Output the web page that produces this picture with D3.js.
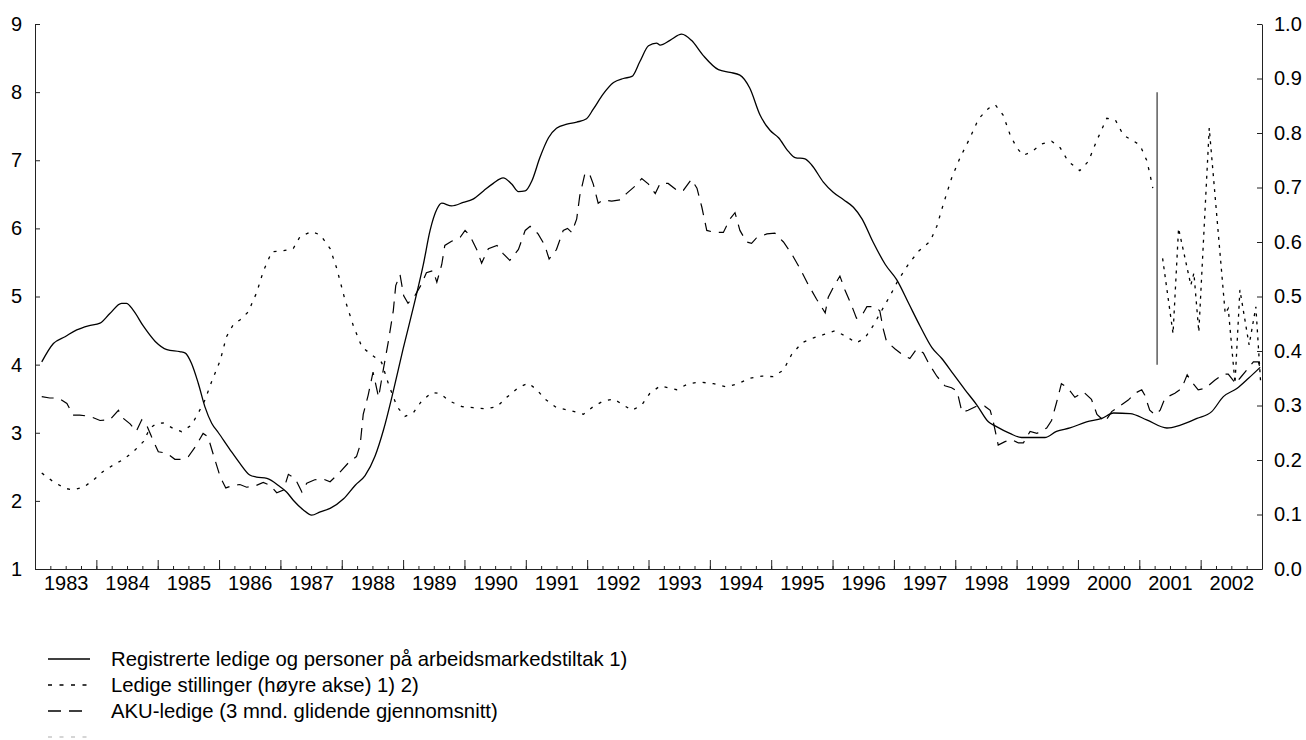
<!DOCTYPE html>
<html><head><meta charset="utf-8">
<script src="https://cdn.jsdelivr.net/npm/d3@7"></script>
<style>
body{margin:0;background:#fff;}
svg text{font-family:"Liberation Sans",Arial,sans-serif;fill:#000;}
</style></head>
<body><svg id="c" width="1306" height="740"></svg>
<script>
// ---- data ----
const yearLabels = ["1983","1984","1985","1986","1987","1988","1989","1990","1991","1992","1993","1994","1995","1996","1997","1998","1999","2000","2001","2002"];
const leftTicks = [1,2,3,4,5,6,7,8,9];
const rightTicks = [0,0.1,0.2,0.3,0.4,0.5,0.6,0.7,0.8,0.9,1.0];
const seriesNames = ["Registrerte ledige og personer på arbeidsmarkedstiltak 1)","Ledige stillinger (høyre akse) 1) 2)","AKU-ledige (3 mnd. glidende gjennomsnitt)"];

// Registrerte ledige (left axis)
const regT = [1983.11,1983.30,1983.49,1983.68,1983.87,1984.06,1984.22,1984.41,1984.49,1984.60,1984.77,1984.96,1985.15,1985.36,1985.45,1985.55,1985.66,1985.77,1985.88,1985.99,1986.18,1986.34,1986.50,1986.61,1986.78,1986.99,1987.10,1987.21,1987.37,1987.51,1987.65,1987.81,1988.03,1988.22,1988.38,1988.54,1988.68,1988.84,1989.00,1989.17,1989.33,1989.44,1989.55,1989.63,1989.79,1989.98,1990.14,1990.31,1990.47,1990.63,1990.77,1990.88,1990.99,1991.10,1991.23,1991.37,1991.50,1991.67,1991.83,1991.99,1992.10,1992.26,1992.43,1992.59,1992.73,1992.86,1993.00,1993.13,1993.19,1993.35,1993.54,1993.70,1993.89,1994.14,1994.33,1994.49,1994.65,1994.82,1994.98,1995.12,1995.28,1995.39,1995.55,1995.66,1995.85,1996.01,1996.18,1996.34,1996.48,1996.66,1996.86,1997.05,1997.24,1997.43,1997.62,1997.78,1997.97,1998.16,1998.35,1998.54,1998.65,1998.89,1999.08,1999.46,1999.65,1999.87,2000.14,2000.39,2000.58,2000.85,2001.12,2001.45,2001.66,2001.94,2002.18,2002.37,2002.59,2002.78,2002.97];
const regV = [4.04,4.31,4.41,4.51,4.57,4.61,4.75,4.90,4.90,4.80,4.56,4.34,4.22,4.19,4.17,4.02,3.73,3.38,3.14,3.00,2.75,2.55,2.38,2.35,2.33,2.21,2.13,2.01,1.87,1.79,1.84,1.89,2.03,2.23,2.37,2.65,3.04,3.61,4.23,4.85,5.47,5.97,6.28,6.37,6.33,6.38,6.43,6.55,6.66,6.74,6.65,6.54,6.55,6.70,7.04,7.33,7.47,7.53,7.56,7.61,7.75,7.97,8.14,8.20,8.23,8.45,8.68,8.72,8.69,8.76,8.85,8.76,8.54,8.33,8.29,8.25,8.06,7.66,7.44,7.33,7.13,7.04,7.02,6.93,6.68,6.53,6.42,6.31,6.14,5.80,5.47,5.24,4.90,4.56,4.25,4.09,3.86,3.63,3.41,3.16,3.10,2.99,2.93,2.93,3.02,3.07,3.16,3.21,3.29,3.28,3.19,3.07,3.11,3.21,3.31,3.53,3.65,3.80,3.96];

// Ledige stillinger (right axis), before and after the break
const vacT1 = [1983.11,1983.30,1983.49,1983.62,1983.79,1983.95,1984.11,1984.28,1984.44,1984.60,1984.77,1984.87,1984.98,1985.09,1985.25,1985.39,1985.55,1985.66,1985.77,1985.88,1986.02,1986.12,1986.23,1986.34,1986.48,1986.56,1986.61,1986.72,1986.86,1987.05,1987.21,1987.32,1987.51,1987.65,1987.81,1987.92,1988.05,1988.19,1988.33,1988.49,1988.65,1988.76,1988.90,1989.03,1989.17,1989.30,1989.47,1989.60,1989.76,1989.96,1990.14,1990.36,1990.53,1990.69,1990.88,1991.04,1991.18,1991.31,1991.50,1991.72,1991.94,1992.10,1992.26,1992.43,1992.59,1992.73,1992.89,1993.02,1993.19,1993.46,1993.65,1993.84,1994.06,1994.27,1994.46,1994.65,1994.85,1995.03,1995.20,1995.33,1995.50,1995.69,1995.85,1996.04,1996.20,1996.39,1996.53,1996.66,1996.80,1996.94,1997.07,1997.23,1997.40,1997.59,1997.70,1997.81,1997.94,1998.08,1998.24,1998.38,1998.54,1998.65,1998.78,1998.89,1999.00,1999.11,1999.25,1999.41,1999.57,1999.71,1999.84,2000.03,2000.17,2000.31,2000.47,2000.61,2000.74,2000.88,2001.01,2001.12,2001.17,2001.22];
const vacV1 = [0.176,0.160,0.148,0.145,0.150,0.163,0.179,0.191,0.201,0.215,0.234,0.258,0.267,0.268,0.258,0.252,0.264,0.286,0.310,0.344,0.383,0.426,0.448,0.457,0.472,0.494,0.506,0.546,0.582,0.584,0.588,0.610,0.619,0.613,0.588,0.551,0.495,0.446,0.407,0.393,0.379,0.340,0.298,0.280,0.287,0.308,0.324,0.322,0.308,0.298,0.296,0.294,0.298,0.315,0.333,0.341,0.329,0.312,0.296,0.291,0.284,0.298,0.308,0.312,0.301,0.291,0.301,0.322,0.336,0.329,0.340,0.343,0.340,0.334,0.340,0.350,0.354,0.353,0.365,0.393,0.415,0.424,0.430,0.437,0.428,0.415,0.424,0.446,0.474,0.502,0.530,0.558,0.583,0.601,0.629,0.671,0.717,0.755,0.791,0.826,0.845,0.852,0.833,0.798,0.773,0.759,0.766,0.780,0.785,0.773,0.748,0.731,0.748,0.787,0.827,0.824,0.796,0.787,0.778,0.750,0.726,0.699];
const vacT2 = [2001.38,2001.55,2001.64,2001.84,2001.89,2001.97,2002.14,2002.40,2002.45,2002.56,2002.64,2002.79,2002.90,2002.98];
const vacV2 = [0.570,0.432,0.625,0.521,0.543,0.435,0.809,0.469,0.478,0.341,0.512,0.411,0.481,0.338];

// AKU-ledige (left axis)
const akuT = [1983.11,1983.24,1983.38,1983.52,1983.62,1983.73,1983.90,1984.06,1984.22,1984.36,1984.44,1984.55,1984.65,1984.74,1984.82,1984.90,1985.01,1985.15,1985.28,1985.39,1985.50,1985.61,1985.74,1985.82,1985.91,1986.02,1986.11,1986.23,1986.34,1986.45,1986.59,1986.72,1986.83,1986.94,1987.05,1987.13,1987.24,1987.35,1987.43,1987.56,1987.70,1987.81,1987.97,1988.11,1988.24,1988.30,1988.35,1988.43,1988.51,1988.60,1988.68,1988.76,1988.84,1988.88,1988.95,1989.01,1989.08,1989.19,1989.30,1989.38,1989.49,1989.55,1989.63,1989.68,1989.79,1989.93,1990.01,1990.09,1990.20,1990.28,1990.39,1990.53,1990.63,1990.74,1990.88,1990.99,1991.07,1991.20,1991.31,1991.38,1991.50,1991.61,1991.68,1991.75,1991.83,1991.88,1991.96,1992.03,1992.10,1992.18,1992.26,1992.40,1992.54,1992.64,1992.78,1992.89,1993.00,1993.11,1993.19,1993.32,1993.49,1993.57,1993.70,1993.79,1993.87,1993.95,1994.08,1994.22,1994.33,1994.41,1994.49,1994.60,1994.68,1994.76,1994.93,1995.06,1995.20,1995.33,1995.47,1995.60,1995.74,1995.88,1995.93,1996.01,1996.12,1996.20,1996.31,1996.39,1996.47,1996.56,1996.69,1996.77,1996.83,1996.88,1997.02,1997.15,1997.26,1997.37,1997.48,1997.56,1997.70,1997.83,1997.94,1998.03,1998.11,1998.21,1998.35,1998.48,1998.57,1998.62,1998.70,1998.81,1998.92,1999.03,1999.11,1999.22,1999.33,1999.49,1999.57,1999.65,1999.73,1999.83,1999.95,2000.09,2000.22,2000.31,2000.44,2000.55,2000.66,2000.82,2000.93,2001.04,2001.09,2001.17,2001.26,2001.34,2001.42,2001.58,2001.69,2001.78,2001.85,2001.96,2002.07,2002.23,2002.37,2002.45,2002.53,2002.56,2002.64,2002.75,2002.86,2002.94,2002.97];
const akuV = [3.53,3.51,3.51,3.43,3.26,3.26,3.24,3.18,3.19,3.33,3.21,3.13,3.02,3.19,3.11,2.94,2.72,2.70,2.61,2.61,2.65,2.79,2.99,2.94,2.67,2.35,2.19,2.23,2.24,2.20,2.22,2.27,2.23,2.12,2.16,2.39,2.33,2.13,2.26,2.31,2.32,2.28,2.42,2.56,2.65,2.82,3.27,3.55,3.89,3.52,3.94,4.34,4.79,5.16,5.32,5.01,4.90,5.01,5.18,5.35,5.38,5.21,5.47,5.75,5.81,5.87,5.97,5.89,5.69,5.49,5.70,5.75,5.63,5.53,5.69,5.97,6.03,5.92,5.75,5.55,5.69,5.97,6.00,5.94,6.14,6.48,6.79,6.82,6.65,6.37,6.42,6.40,6.42,6.51,6.62,6.73,6.65,6.51,6.66,6.66,6.54,6.56,6.72,6.59,6.31,5.97,5.94,5.94,6.14,6.23,5.97,5.80,5.78,5.86,5.92,5.93,5.80,5.63,5.41,5.18,4.96,4.76,4.99,5.13,5.30,5.10,4.87,4.68,4.71,4.85,4.85,4.79,4.51,4.34,4.23,4.14,4.09,4.23,4.17,4.03,3.83,3.69,3.66,3.61,3.30,3.33,3.39,3.39,3.33,3.16,2.82,2.87,2.90,2.85,2.85,3.02,2.99,3.07,3.18,3.44,3.72,3.66,3.52,3.60,3.49,3.27,3.16,3.31,3.38,3.48,3.58,3.63,3.55,3.33,3.26,3.33,3.51,3.58,3.65,3.85,3.75,3.63,3.65,3.77,3.86,3.86,3.77,3.72,3.80,3.92,4.04,4.04,3.95];

// break marker (left axis values)
const breakYear = 2001.29;
const breakRange = [4, 8];

// ---- drawing ----
const svg = d3.select("#c");
const x = d3.scaleLinear().domain([1983, 2003]).range([35, 1262]);
const yL = d3.scaleLinear().domain([1, 9]).range([569, 24]);
const yR = d3.scaleLinear().domain([0, 1]).range([569, 24]);
const FS = "20px";

// x axis: quarter ticks + year ticks + labels
const quarters = d3.range(0, 81).map(i => 1983 + i / 4);
const years = d3.range(1983, 2004);
const gx = svg.append("g").attr("transform", "translate(0,569)");
gx.call(d3.axisBottom(x).tickValues(quarters).tickSizeInner(-3).tickSizeOuter(0).tickFormat(""));
gx.append("g").call(d3.axisBottom(x).tickValues(years).tickSizeInner(-9).tickSizeOuter(0).tickFormat(""))
  .select(".domain").remove();
const labelAxis = svg.append("g").attr("transform", "translate(0,569)")
  .call(d3.axisBottom(x).tickValues(yearLabels.map(d => +d + 0.5)).tickSize(0).tickPadding(7)
    .tickFormat((d, i) => yearLabels[i]));
labelAxis.select(".domain").remove();
labelAxis.selectAll("text").style("font-size", FS);

// left axis
const gl = svg.append("g").attr("transform", "translate(35,0)")
  .call(d3.axisLeft(yL).tickValues(leftTicks).tickSizeInner(-5).tickSizeOuter(0).tickPadding(13).tickFormat(d3.format("d")));
gl.selectAll("text").style("font-size", FS);

// right axis
const gr = svg.append("g").attr("transform", "translate(1262,0)")
  .call(d3.axisRight(yR).tickValues(rightTicks).tickSizeInner(-5).tickSizeOuter(0).tickPadding(12).tickFormat(d3.format(".1f")));
gr.selectAll("text").style("font-size", FS);

svg.selectAll(".domain, .tick line").attr("stroke", "#222").attr("stroke-width", 1);
svg.selectAll(".tick text").attr("fill", "#000");

// lines
const lineL = d3.line().x(d => x(d[0])).y(d => yL(d[1]));
const lineR = d3.line().x(d => x(d[0])).y(d => yR(d[1]));
const zip = (a, b) => a.map((t, i) => [t, b[i]]);

svg.append("path").datum(zip(vacT1, vacV1)).attr("d", lineR)
  .attr("fill", "none").attr("stroke", "#000").attr("stroke-width", 1.3).attr("stroke-dasharray", "3,7");
svg.append("path").datum(zip(vacT2, vacV2)).attr("d", lineR)
  .attr("fill", "none").attr("stroke", "#000").attr("stroke-width", 1.3).attr("stroke-dasharray", "3,5");
svg.append("path").datum(zip(akuT, akuV)).attr("d", lineL)
  .attr("fill", "none").attr("stroke", "#000").attr("stroke-width", 1.2).attr("stroke-dasharray", "12,8");
svg.append("path").datum(zip(regT, regV)).attr("d", lineL.curve(d3.curveMonotoneX))
  .attr("fill", "none").attr("stroke", "#000").attr("stroke-width", 1.3);

// break marker
svg.append("line").attr("x1", x(breakYear)).attr("x2", x(breakYear))
  .attr("y1", yL(breakRange[0])).attr("y2", yL(breakRange[1]))
  .attr("stroke", "#333").attr("stroke-width", 1.2);

// legend
const legendStyles = [
  {dash: null, color: "#000"},
  {dash: "4,7.5", color: "#000"},
  {dash: "13,8", color: "#000"},
  {dash: "4,7.5", color: "#c8c8c8"}
];
const lg = svg.append("g");
legendStyles.forEach((s, i) => {
  const yy = 659 + i * 26;
  lg.append("line").attr("x1", 48).attr("x2", 90).attr("y1", yy).attr("y2", yy)
    .attr("stroke", s.color).attr("stroke-width", 1.3)
    .attr("stroke-dasharray", s.dash);
  if (seriesNames[i]) {
    lg.append("text").attr("x", 111).attr("y", yy).attr("dy", "0.35em")
      .style("font-size", "20.3px").text(seriesNames[i]);
  }
});
</script></body></html>
